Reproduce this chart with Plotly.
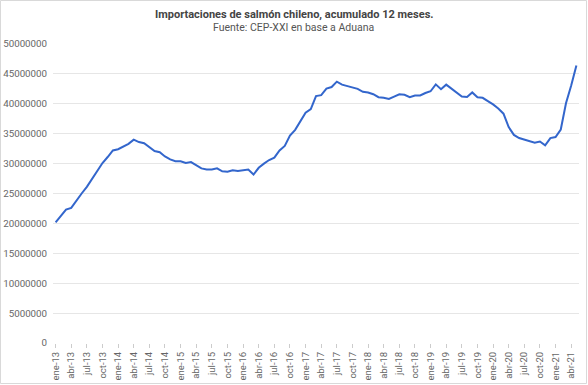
import plotly.graph_objects as go

meses = ["ene", "feb", "mar", "abr", "may", "jun", "jul", "ago", "sep", "oct", "nov", "dic"]
categorias = [f"{meses[i % 12]}-{13 + i // 12}" for i in range(101)]  # ene-13 .. may-21

valores_millones = [
    20.17, 21.2, 22.3, 22.6, 23.9, 25.0, 26.1, 27.5, 28.9, 30.1, 31.1, 32.2,
    32.4, 32.9, 33.3, 34.0, 33.6, 33.4, 32.8, 32.1, 31.9, 31.2, 30.7, 30.4,
    30.4, 30.1, 30.25, 29.7, 29.2, 29.0, 29.0, 29.2, 28.7, 28.65, 28.9, 28.75,
    28.9, 29.0, 28.17, 29.3, 30.0, 30.6, 31.0, 32.2, 32.95, 34.7, 35.65, 37.2,
    38.5, 39.1, 41.3, 41.45, 42.55, 42.8, 43.7, 43.2, 42.95, 42.7, 42.5, 42.0,
    41.9, 41.6, 41.1, 41.0, 40.8, 41.2, 41.6, 41.5, 41.1, 41.4, 41.4, 41.8,
    42.1, 43.25, 42.45, 43.2, 42.55, 41.85, 41.2, 41.15, 41.9, 41.08, 41.0, 40.45,
    39.9, 39.2, 38.35, 36.1, 34.8, 34.27, 34.05, 33.75, 33.5, 33.7, 33.05, 34.27,
    34.45, 35.7, 40.1, 43.05, 46.4,
]
valores = [v * 1_000_000 for v in valores_millones]

x_ticks = categorias[::3]
y_ticks = [0, 5000000, 10000000, 15000000, 20000000, 25000000, 30000000,
           35000000, 40000000, 45000000, 50000000]
y_ticktext = [str(v) for v in y_ticks]

titulo = "Importaciones de salmón chileno, acumulado 12 meses."
subtitulo = "Fuente: CEP-XXI en base a Aduana"

fig = go.Figure()
fig.add_trace(go.Scatter(
    x=categorias, y=valores, mode="lines",
    line=dict(color="#3366cc", width=2),
    hoverinfo="x+y", showlegend=False,
))

L, R, T, B = 53, 9, 44, 42
W, H = 588, 385
pw, ph = W - L - R, H - T - B

fig.update_layout(
    width=W, height=H,
    margin=dict(l=L, r=R, t=T, b=B, pad=0, autoexpand=False),
    paper_bgcolor="white", plot_bgcolor="white",
    font=dict(family="Roboto, Arial, sans-serif", size=9, color="#666666"),
    xaxis=dict(
        type="category", categoryorder="array", categoryarray=categorias,
        range=[-0.5, len(categorias) - 0.5],
        tickmode="array", tickvals=x_ticks, ticktext=x_ticks,
        tickangle=-90, ticks="outside", ticklen=4, tickcolor="#cccccc",
        showgrid=False, zeroline=False, showline=False, automargin=False,
        tickfont=dict(size=9.5, color="#666666"),
        fixedrange=True,
    ),
    yaxis=dict(
        range=[0, 50000000],
        tickmode="array", tickvals=y_ticks, ticktext=y_ticktext,
        showgrid=True, gridcolor="#e6e6e6", gridwidth=1,
        zeroline=False, showline=False, automargin=False,
        ticks="outside", ticklen=3, tickcolor="rgba(0,0,0,0)",
        tickfont=dict(size=9.75, color="#666666"),
        fixedrange=True,
    ),
    annotations=[
        dict(text=f"<b>{titulo}</b>", xref="paper", yref="paper",
             x=(293.5 - L) / pw, y=(H - B - 14.5) / ph, xanchor="center", yanchor="middle",
             showarrow=False, font=dict(size=11, color="#444444")),
        dict(text=subtitulo, xref="paper", yref="paper",
             x=(293.5 - L) / pw, y=(H - B - 27) / ph, xanchor="center", yanchor="middle",
             showarrow=False, font=dict(size=10.5, color="#555555")),
    ],
    shapes=[
        dict(type="rect", xref="paper", yref="paper",
             x0=(0.5 - L) / pw, x1=(W - 1.5 - L) / pw,
             y0=(H - B - (H - 1.5)) / ph, y1=(H - B - 0.5) / ph,
             line=dict(color="#d9d9d9", width=1), fillcolor="rgba(0,0,0,0)", layer="below"),
    ],
)

fig.write_html(
    "out.html",
    config={"displayModeBar": False},
    post_script="document.body.style.margin='0';document.body.style.overflow='hidden';",
)
